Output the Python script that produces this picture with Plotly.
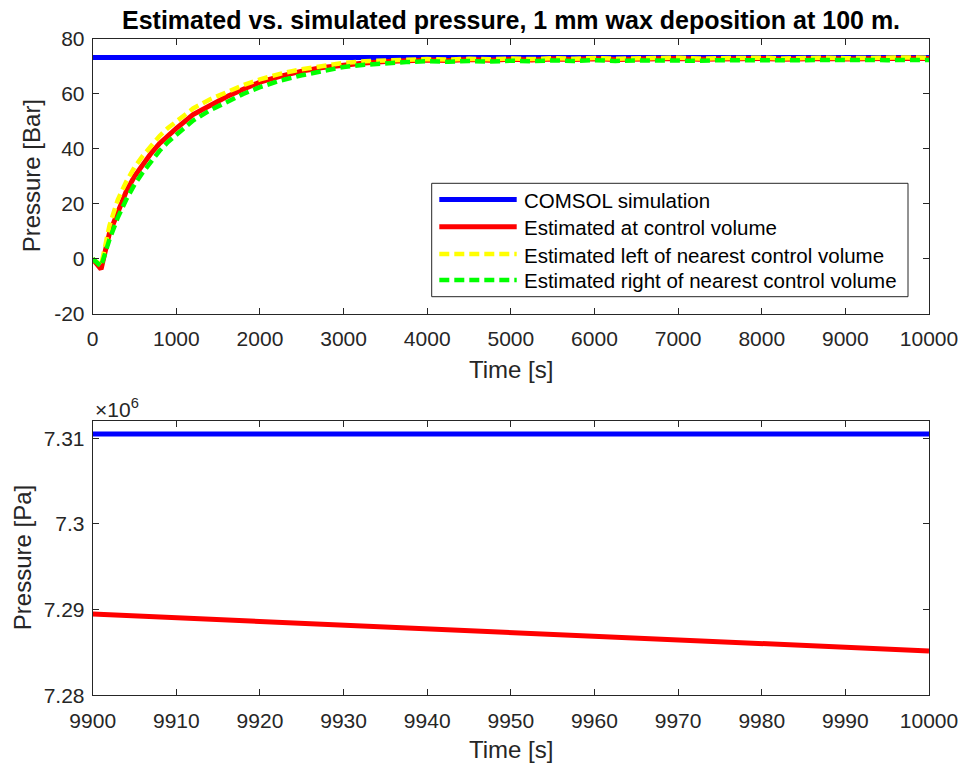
import plotly.graph_objects as go

# ---------------- data ----------------
time_top = [0, 100, 200, 300, 400, 500, 600, 700, 800, 900, 1000,
            1200, 1400, 1600, 1800, 2000, 2250, 2500, 2750,
            3000, 3250, 3500, 3750, 4000, 4250, 4500, 4750, 5000, 5250,
            5500, 5750, 6000, 6250, 6500, 6750, 7000, 7250, 7500, 7750,
            8000, 8250, 8500, 8750, 9000, 9250, 9500, 9750, 10000]

comsol_bar = [73.3] * len(time_top)

est_cv = [0, -3.8, 9.3, 17.5, 24.5, 30, 34.3, 38.5, 42, 45, 47.5,
          52.5, 56, 59, 61.7, 64.3, 66.5, 68.3, 69.6,
          70.6, 71.3, 71.8, 72.1, 72.4, 72.2, 72.5, 72.3, 72.6, 72.4,
          72.7, 72.5, 72.8, 72.5, 72.7, 72.6, 72.9, 72.6, 72.8, 72.7,
          72.9, 72.6, 72.8, 72.9, 72.7, 72.9, 72.8, 73.0, 72.9]

est_left = [0, -2.5, 12, 21.5, 28, 33.3, 37.5, 41.3, 44.7, 47.6, 50.1,
            54.7, 58, 60.8, 63.2, 65.3, 67.4, 69.0, 70.2,
            71.3, 71.9, 72.3, 72.5, 72.7, 72.5, 72.8, 72.6, 72.9, 72.7,
            73.0, 72.8, 73.1, 72.8, 73.0, 72.9, 73.2, 72.9, 73.1, 73.0,
            73.2, 72.9, 73.1, 73.2, 73.0, 73.2, 73.1, 73.3, 73.2]

est_right = [0, -2.8, 7, 15, 21.5, 27, 31.5, 35.7, 39.3, 42.5, 45.2,
             50.3, 54, 57.2, 60, 62.5, 64.9, 66.8, 68.3,
             69.8, 70.6, 71.2, 71.6, 71.9, 71.7, 72.0, 71.8, 72.1, 71.9,
             72.2, 72.0, 72.3, 72.0, 72.2, 72.1, 72.4, 72.1, 72.3, 72.2,
             72.4, 72.1, 72.3, 72.4, 72.2, 72.4, 72.3, 72.5, 72.4]

time_bot = [9900, 9925, 9950, 9975, 10000]
comsol_pa = [7.3105e6, 7.3105e6, 7.3105e6, 7.3105e6, 7.3105e6]
est_cv_pa = [7.28949e6, 7.28842e6, 7.28735e6, 7.28626e6, 7.28517e6]

top_xticks = [0, 1000, 2000, 3000, 4000, 5000, 6000, 7000, 8000, 9000, 10000]
top_xticklabels = ["0", "1000", "2000", "3000", "4000", "5000", "6000",
                   "7000", "8000", "9000", "10000"]
top_yticks = [-20, 0, 20, 40, 60, 80]
top_yticklabels = ["-20", "0", "20", "40", "60", "80"]
bot_xticks = [9900, 9910, 9920, 9930, 9940, 9950, 9960, 9970, 9980, 9990, 10000]
bot_xticklabels = ["9900", "9910", "9920", "9930", "9940", "9950", "9960",
                   "9970", "9980", "9990", "10000"]
bot_yticks = [7.28e6, 7.29e6, 7.30e6, 7.31e6]
bot_yticklabels = ["7.28", "7.29", "7.3", "7.31"]

names = ["COMSOL simulation", "Estimated at control volume",
         "Estimated left of nearest control volume",
         "Estimated right of nearest control volume"]
colors = ["#0000ff", "#ff0000", "#ffff00", "#00ff00"]
dashes = ["solid", "solid", "10px,5px", "10px,5px"]
widths = [5, 5, 4.5, 4.5]

# ---------------- figure ----------------
FONT = "Liberation Sans, Arial, Helvetica, sans-serif"
AX = "#262626"

fig = go.Figure()
for yv, nm, c, d, w in zip([comsol_bar, est_cv, est_left, est_right], names, colors, dashes, widths):
    fig.add_trace(go.Scatter(x=time_top, y=yv, mode="lines", name=nm, showlegend=False,
                             line=dict(color=c, width=w, dash=d), xaxis="x", yaxis="y"))

fig.add_trace(go.Scatter(x=time_bot, y=comsol_pa, mode="lines", showlegend=False,
                         name=names[0], line=dict(color=colors[0], width=5),
                         xaxis="x2", yaxis="y2"))
fig.add_trace(go.Scatter(x=time_bot, y=est_cv_pa, mode="lines", showlegend=False,
                         name=names[1], line=dict(color=colors[1], width=5),
                         xaxis="x2", yaxis="y2"))

W, H = 971, 767
L, R = 92.7, 929
T1, B1 = 39, 313.7
T2, B2 = 421, 695.3

axcommon = dict(showline=True, mirror="ticks", linecolor=AX, linewidth=1,
                ticks="inside", ticklen=6, tickcolor=AX, tickwidth=1,
                showgrid=False, zeroline=False, automargin=False,
                tickfont=dict(family=FONT, size=21, color=AX))

titlefont = dict(family=FONT, size=24, color=AX)

fig.update_layout(
    width=W, height=H,
    margin=dict(l=0, r=0, t=0, b=0),
    paper_bgcolor="white", plot_bgcolor="white",
    font=dict(family=FONT, color=AX),
    showlegend=False,
    xaxis=dict(domain=[L / W, R / W], range=[0, 10000], tickvals=top_xticks,
               ticktext=top_xticklabels, anchor="y", ticklabelstandoff=6, **axcommon),
    yaxis=dict(domain=[1 - B1 / H, 1 - T1 / H], range=[-20, 80], tickvals=top_yticks,
               ticktext=top_yticklabels, anchor="x", ticklabelstandoff=3, **axcommon),
    xaxis2=dict(domain=[L / W, R / W], range=[9900, 10000], tickvals=bot_xticks,
                ticktext=bot_xticklabels, anchor="y2", ticklabelstandoff=6, **axcommon),
    yaxis2=dict(domain=[1 - B2 / H, 1 - T2 / H], range=[7.28e6, 7.31202e6],
                tickvals=bot_yticks, ticktext=bot_yticklabels, anchor="x2",
                ticklabelstandoff=3, **axcommon),
)

def px_x(v):
    return v / W

def px_y(v):
    return 1 - v / H

# title
fig.add_annotation(text="<b>Estimated vs. simulated pressure, 1 mm wax deposition at 100 m.</b>",
                   xref="paper", yref="paper", x=px_x((L + R) / 2), y=px_y(20),
                   xanchor="center", yanchor="middle", showarrow=False,
                   font=dict(family=FONT, size=25, color="black"))

# axis titles
for txt, x, y, ang in [("Time [s]", (L + R) / 2, 369, 0),
                       ("Pressure [Bar]", 31, (T1 + B1) / 2, -90),
                       ("Time [s]", (L + R) / 2, 749, 0),
                       ("Pressure [Pa]", 22, (T2 + B2) / 2, -90)]:
    fig.add_annotation(text=txt, xref="paper", yref="paper", x=px_x(x), y=px_y(y),
                       xanchor="center", yanchor="middle", textangle=ang,
                       showarrow=False, font=titlefont)

# exponent label
fig.add_annotation(text="×10<sup>6</sup>", xref="paper", yref="paper",
                   x=px_x(L), y=px_y(408), xanchor="left", yanchor="middle",
                   showarrow=False, font=dict(family=FONT, size=21, color=AX))

# legend box (drawn manually for MATLAB-like long line samples)
LG_L, LG_R, LG_T, LG_B = 431.7, 908, 183.3, 296.7
fig.add_shape(type="rect", xref="paper", yref="paper",
              x0=px_x(LG_L), x1=px_x(LG_R), y0=px_y(LG_B), y1=px_y(LG_T),
              line=dict(color=AX, width=1), fillcolor="white", layer="above")
rows = [199.5, 226.7, 254, 280]
for nm, c, d, w, ry in zip(names, colors, dashes, widths, rows):
    fig.add_shape(type="line", xref="paper", yref="paper",
                  x0=px_x(439.3), x1=px_x(516.7), y0=px_y(ry), y1=px_y(ry),
                  line=dict(color=c, width=w, dash=d), layer="above")
    fig.add_annotation(text=nm, xref="paper", yref="paper",
                       x=px_x(521.7), y=px_y(ry + 1), xanchor="left", yanchor="middle",
                       showarrow=False, font=dict(family=FONT, size=20.5, color="black"))

fig.write_html("out.html")
